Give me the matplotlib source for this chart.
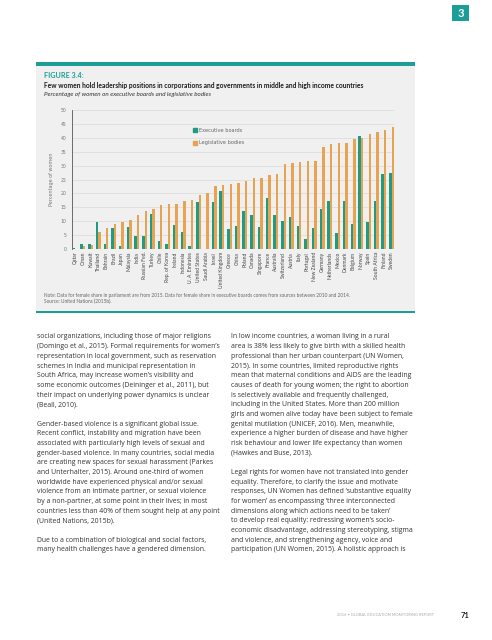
import matplotlib
matplotlib.use("Agg")
import matplotlib.pyplot as plt
import numpy as np
from matplotlib.patches import Rectangle
from matplotlib.lines import Line2D

countries = ["Qatar", "Oman", "Kuwait", "Thailand", "Bahrain", "Brazil", "Japan", "Malaysia",
             "India", "Russian Fed.", "Turkey", "Chile", "Rep. of Korea", "Ireland", "Indonesia",
             "U. A. Emirates", "United States", "Saudi Arabia", "Israel", "United Kingdom",
             "Greece", "China", "Poland", "Canada", "Singapore", "France", "Australia",
             "Switzerland", "Austria", "Italy", "Portugal", "New Zealand", "Germany",
             "Netherlands", "Mexico", "Denmark", "Belgium", "Norway", "Spain", "South Africa",
             "Finland", "Sweden"]
executive = [0.4, 1.8, 1.8, 9.7, 1.9, 7.6, 1.2, 7.9, 4.7, 4.7, 12.6, 2.8, 1.9, 8.6, 6.1,
             1.1, 16.9, 0.1, 16.9, 20.9, 7.2, 8.3, 13.7, 12.2, 7.9, 18.3, 12.2, 10.1, 11.5,
             8.3, 3.6, 7.6, 14.4, 17.3, 5.8, 17.3, 9.0, 40.6, 9.7, 17.3, 27.0, 27.3]
legislative = [0.1, 1.2, 1.6, 6.1, 7.6, 9.0, 9.8, 10.4, 12.2, 13.7, 14.4, 15.8, 16.2, 16.2,
               17.3, 17.6, 19.4, 20.1, 22.7, 23.0, 23.4, 23.7, 24.5, 25.5, 25.5, 26.6, 27.1,
               30.6, 30.9, 31.3, 31.8, 31.8, 36.7, 37.8, 38.1, 38.1, 39.6, 39.9, 41.4, 42.1,
               42.8, 43.9]
yticks = [0, 5, 10, 15, 20, 25, 30, 35, 40, 45, 50]

left_col = [
    "social organizations, including those of major religions",
    "(Domingo et al., 2015). Formal requirements for women\u2019s",
    "representation in local government, such as reservation",
    "schemes in India and municipal representation in",
    "South Africa, may increase women\u2019s visibility and",
    "some economic outcomes (Deininger et al., 2011), but",
    "their impact on underlying power dynamics is unclear",
    "(Beall, 2010).",
    "",
    "Gender-based violence is a significant global issue.",
    "Recent conflict, instability and migration have been",
    "associated with particularly high levels of sexual and",
    "gender-based violence. In many countries, social media",
    "are creating new spaces for sexual harassment (Parkes",
    "and Unterhalter, 2015). Around one-third of women",
    "worldwide have experienced physical and/or sexual",
    "violence from an intimate partner, or sexual violence",
    "by a non-partner, at some point in their lives; in most",
    "countries less than 40% of them sought help at any point",
    "(United Nations, 2015b).",
    "",
    "Due to a combination of biological and social factors,",
    "many health challenges have a gendered dimension.",
]
right_col = [
    "In low income countries, a woman living in a rural",
    "area is 38% less likely to give birth with a skilled health",
    "professional than her urban counterpart (UN Women,",
    "2015). In some countries, limited reproductive rights",
    "mean that maternal conditions and AIDS are the leading",
    "causes of death for young women; the right to abortion",
    "is selectively available and frequently challenged,",
    "including in the United States. More than 200 million",
    "girls and women alive today have been subject to female",
    "genital mutilation (UNICEF, 2016). Men, meanwhile,",
    "experience a higher burden of disease and have higher",
    "risk behaviour and lower life expectancy than women",
    "(Hawkes and Buse, 2013).",
    "",
    "Legal rights for women have not translated into gender",
    "equality. Therefore, to clarify the issue and motivate",
    "responses, UN Women has defined \u2018substantive equality",
    "for women\u2019 as encompassing \u2018three interconnected",
    "dimensions along which actions need to be taken\u2019",
    "to develop real equality: redressing women\u2019s socio-",
    "economic disadvantage, addressing stereotyping, stigma",
    "and violence, and strengthening agency, voice and",
    "participation (UN Women, 2015). A holistic approach is",
]

W, H = 492, 640
teal = "#1a9e97"
green = "#1f9a83"
orange = "#e9a24f"

fig = plt.figure(figsize=(W / 100, H / 100), dpi=100)
fig.patch.set_facecolor("white")


def fx(x):
    return x / W


def fy(y):
    return 1 - y / H


def rect(x0, y0, x1, y1, color):
    fig.patches.append(Rectangle((fx(x0), fy(y1)), fx(x1 - x0), (y1 - y0) / H,
                                 transform=fig.transFigure, color=color, lw=0, zorder=-1))


# chapter tab
rect(452, 5, 469, 21, teal)
fig.text(fx(460.5), fy(13.5), "3", color="white", fontsize=8, fontweight="bold",
         family="Lato", ha="center", va="center")

# figure panel
rect(36, 66, 415, 311, "#eff0ef")
rect(36, 62, 415, 66, teal)
rect(36, 310.5, 415, 312.5, teal)

fig.text(fx(44), fy(76), "FIGURE 3.4:", color=teal, fontsize=5.2, fontweight="bold",
         family="Lato", va="center")
fig.text(fx(44), fy(85.5), "Few women hold leadership positions in corporations and governments "
         "in middle and high income countries", fontsize=4.8, fontweight="bold",
         family="Lato", va="center", color="#1a1a1a")
fig.text(fx(44), fy(94.5), "Percentage of women on executive boards and legislative bodies",
         fontsize=4.5, style="italic", family="Lato", va="center", color="#333333")

ax = fig.add_axes([fx(72), fy(249), fx(322), 139 / H])
ax.set_zorder(2)
ax.set_facecolor("none")
x = np.arange(len(countries))
ax.bar(x - 0.16, executive, width=0.32, color=green, label="Executive boards", zorder=3)
ax.bar(x + 0.16, legislative, width=0.32, color=orange, label="Legislative bodies", zorder=3)
ax.set_xlim(-0.4, 41.3)
ax.set_ylim(0, 50)
ax.set_yticks(yticks)
ax.yaxis.grid(True, color="#dcdedd", lw=0.6, zorder=0)
for s in ["top", "right", "bottom"]:
    ax.spines[s].set_visible(False)
ax.spines["left"].set_color("#555555")
ax.spines["left"].set_linewidth(0.6)
ax.tick_params(axis="y", length=0, labelsize=3.3, labelcolor="#777777", pad=4)
ax.set_xticks(x)
ax.set_xticklabels(countries, rotation=90, fontsize=3.6, color="#444444", family="Lato")
ax.tick_params(axis="x", length=0, pad=2)
ax.set_ylabel("Percentage of women", fontsize=3.5, color="#777777", labelpad=5)

handles = [Line2D([], [], marker="s", ls="none", color=green, markersize=2.4),
           Line2D([], [], marker="s", ls="none", color=orange, markersize=2.4)]
leg = fig.legend(handles, ["Executive boards", "Legislative bodies"], loc="upper left",
                 bbox_to_anchor=(fx(188), fy(123)), frameon=False, fontsize=3.6,
                 handlelength=0.8, handletextpad=0.5, labelspacing=1.55, labelcolor="#666666")
leg.set_zorder(3)

fig.text(fx(44), fy(295), "Note: Data for female share in parliament are from 2015. Data for "
         "female share in executive boards comes from sources between 2010 and 2014.",
         fontsize=3.4, color="#666666", family="Lato", va="center")
fig.text(fx(44), fy(301), "Source: United Nations (2015b).", fontsize=3.4, color="#666666",
         family="Lato", va="center")

# body text
line_h = 9.67
top = 337
for i, line in enumerate(left_col):
    fig.text(fx(37), fy(top + i * line_h), line, fontsize=4.95, family="Open Sans",
             color="#333333", va="center")
for i, line in enumerate(right_col):
    fig.text(fx(231), fy(top + i * line_h), line, fontsize=4.95, family="Open Sans",
             color="#333333", va="center")

# footer
fig.text(fx(434), fy(615), "2016 \u2022 GLOBAL EDUCATION MONITORING REPORT", fontsize=2.9,
         color="#aaaaaa", family="Lato", ha="right", va="center")
fig.text(fx(469), fy(615), "71", fontsize=5.5, fontweight="bold", color="#222222",
         family="Lato", ha="right", va="center")

fig.savefig("out.png", dpi=100)
